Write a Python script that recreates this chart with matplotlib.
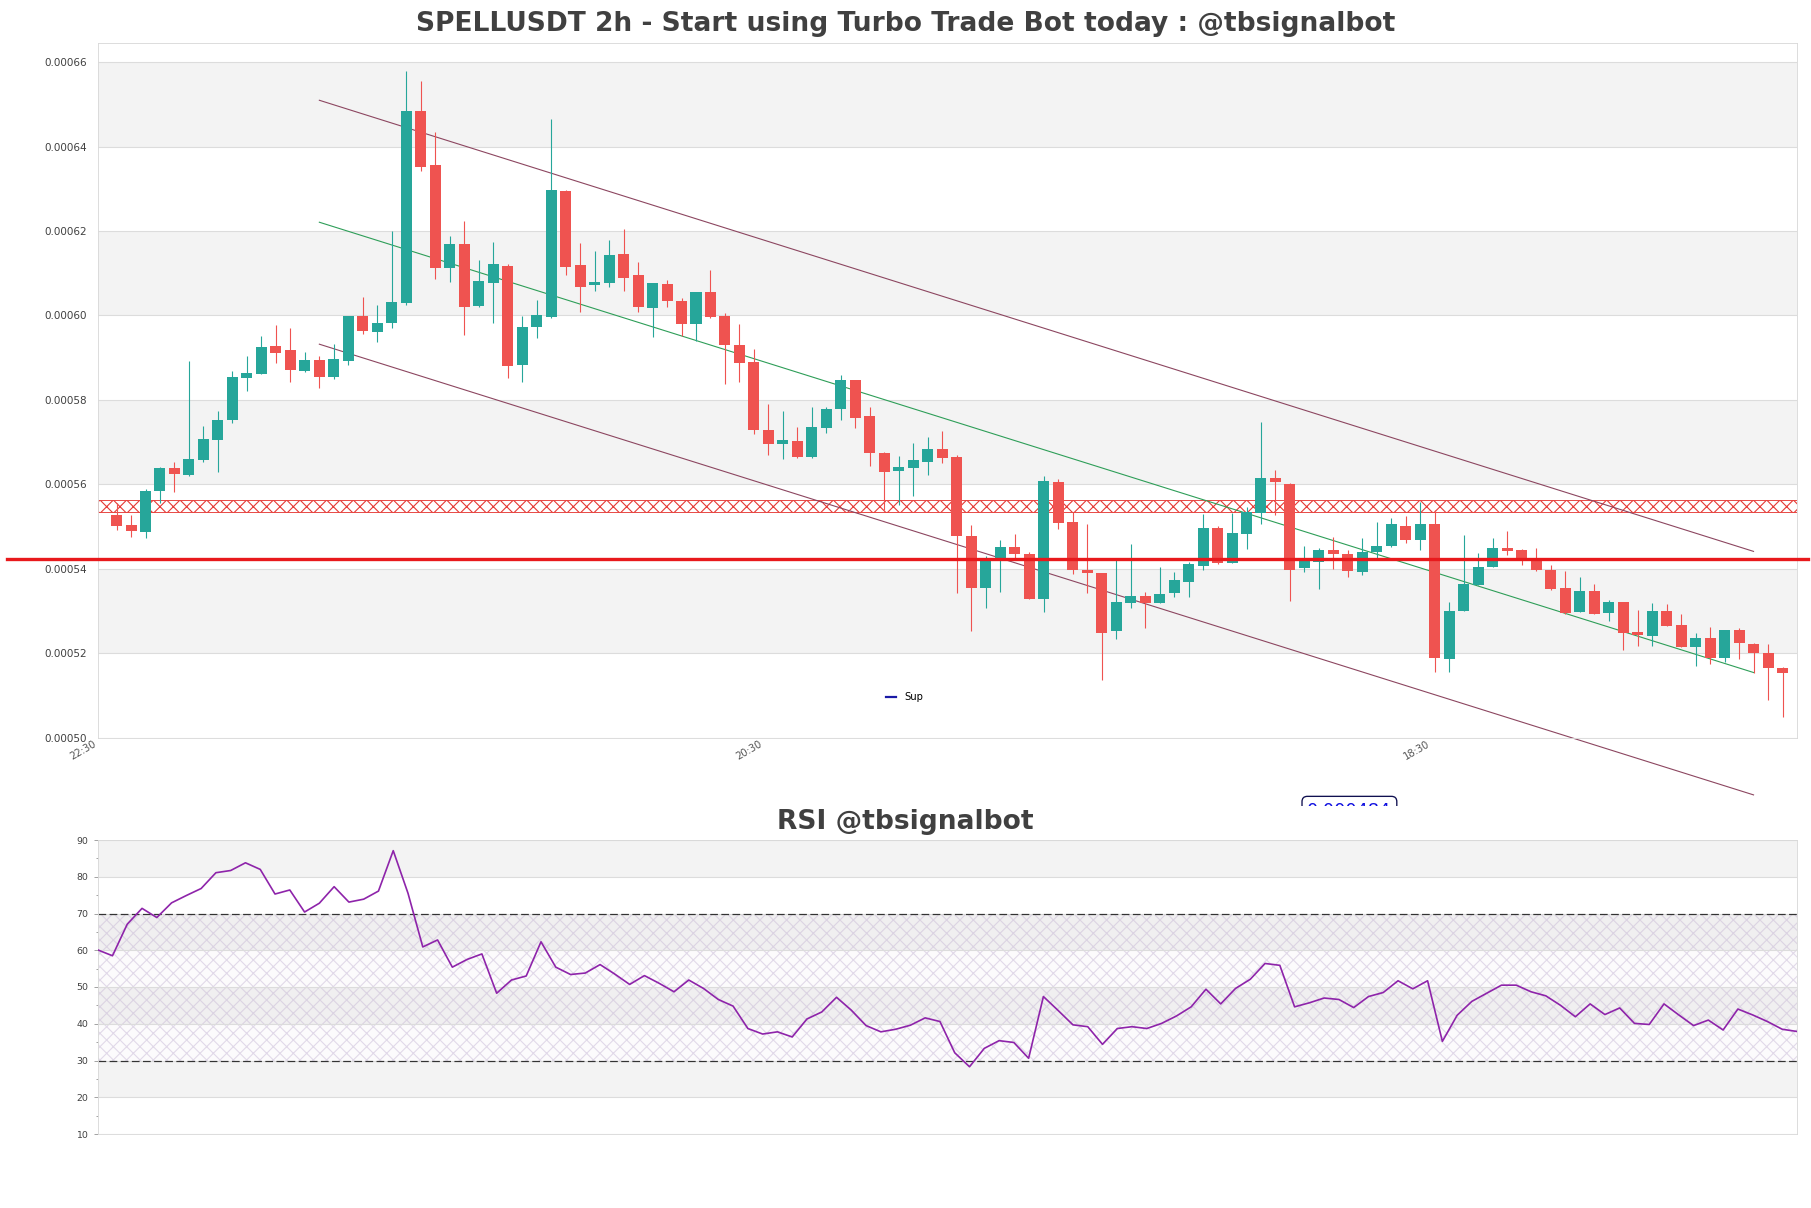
import matplotlib
matplotlib.use("Agg")
import matplotlib.pyplot as plt
import numpy as np
from matplotlib.transforms import Bbox, TransformedBbox


# Candles (SPELLUSDT, 2h), prices in USDT
opens = [0.0005527, 0.0005504, 0.0005488, 0.0005583, 0.0005638, 0.0005622, 0.0005658, 0.0005705,
         0.0005752, 0.0005853, 0.0005862, 0.0005928, 0.0005918, 0.0005869, 0.0005895, 0.0005855,
         0.0005893, 0.0005999, 0.0005962, 0.0005983, 0.0006029, 0.0006485, 0.0006357, 0.0006112,
         0.0006170, 0.0006023, 0.0006078, 0.0006118, 0.0005883, 0.0005972, 0.0005997, 0.0006294,
         0.0006119, 0.0006072, 0.0006078, 0.0006145, 0.0006096, 0.0006017, 0.0006075, 0.0006034,
         0.0005980, 0.0006055, 0.0005999, 0.0005931, 0.0005889, 0.0005729, 0.0005696, 0.0005703,
         0.0005664, 0.0005733, 0.0005778, 0.0005847, 0.0005762, 0.0005675, 0.0005631, 0.0005639,
         0.0005654, 0.0005684, 0.0005664, 0.0005478, 0.0005355, 0.0005422, 0.0005451, 0.0005434,
         0.0005329, 0.0005605, 0.0005511, 0.0005398, 0.0005389, 0.0005253, 0.0005318, 0.0005335,
         0.0005319, 0.0005343, 0.0005369, 0.0005407, 0.0005496, 0.0005414, 0.0005483, 0.0005531,
         0.0005616, 0.0005601, 0.0005402, 0.0005417, 0.0005444, 0.0005434, 0.0005393, 0.0005440,
         0.0005454, 0.0005501, 0.0005468, 0.0005506, 0.0005187, 0.0005300, 0.0005361, 0.0005405,
         0.0005448, 0.0005445, 0.0005422, 0.0005398, 0.0005355, 0.0005298, 0.0005347, 0.0005296,
         0.0005320, 0.0005249, 0.0005240, 0.0005300, 0.0005266, 0.0005215, 0.0005235, 0.0005188,
         0.0005255, 0.0005221, 0.0005200, 0.0005164]
highs = [0.0005555, 0.0005527, 0.0005589, 0.0005640, 0.0005652, 0.0005891, 0.0005737, 0.0005774,
         0.0005869, 0.0005903, 0.0005951, 0.0005978, 0.0005970, 0.0005914, 0.0005903, 0.0005932,
         0.0005999, 0.0006045, 0.0006025, 0.0006200, 0.0006579, 0.0006556, 0.0006434, 0.0006188,
         0.0006225, 0.0006132, 0.0006174, 0.0006122, 0.0005999, 0.0006036, 0.0006466, 0.0006297,
         0.0006172, 0.0006153, 0.0006179, 0.0006205, 0.0006127, 0.0006077, 0.0006084, 0.0006042,
         0.0006055, 0.0006108, 0.0006006, 0.0005980, 0.0005921, 0.0005790, 0.0005774, 0.0005735,
         0.0005784, 0.0005782, 0.0005858, 0.0005847, 0.0005782, 0.0005677, 0.0005666, 0.0005699,
         0.0005711, 0.0005727, 0.0005670, 0.0005504, 0.0005430, 0.0005468, 0.0005482, 0.0005440,
         0.0005620, 0.0005612, 0.0005535, 0.0005506, 0.0005389, 0.0005424, 0.0005458, 0.0005344,
         0.0005405, 0.0005391, 0.0005416, 0.0005530, 0.0005501, 0.0005533, 0.0005547, 0.0005747,
         0.0005634, 0.0005603, 0.0005454, 0.0005448, 0.0005476, 0.0005445, 0.0005472, 0.0005511,
         0.0005520, 0.0005525, 0.0005559, 0.0005539, 0.0005320, 0.0005480, 0.0005438, 0.0005472,
         0.0005489, 0.0005446, 0.0005448, 0.0005408, 0.0005395, 0.0005381, 0.0005364, 0.0005327,
         0.0005322, 0.0005301, 0.0005318, 0.0005316, 0.0005293, 0.0005247, 0.0005261, 0.0005255,
         0.0005259, 0.0005223, 0.0005221, 0.0005166]
lows = [0.0005492, 0.0005476, 0.0005472, 0.0005555, 0.0005581, 0.0005620, 0.0005654, 0.0005628,
        0.0005745, 0.0005821, 0.0005861, 0.0005888, 0.0005843, 0.0005867, 0.0005827, 0.0005850,
        0.0005883, 0.0005957, 0.0005936, 0.0005971, 0.0006025, 0.0006342, 0.0006087, 0.0006080,
        0.0005954, 0.0006019, 0.0005983, 0.0005851, 0.0005843, 0.0005946, 0.0005995, 0.0006095,
        0.0006009, 0.0006059, 0.0006068, 0.0006058, 0.0006009, 0.0005949, 0.0006019, 0.0005952,
        0.0005939, 0.0005995, 0.0005837, 0.0005843, 0.0005719, 0.0005670, 0.0005660, 0.0005662,
        0.0005662, 0.0005721, 0.0005753, 0.0005733, 0.0005644, 0.0005540, 0.0005550, 0.0005572,
        0.0005621, 0.0005650, 0.0005342, 0.0005252, 0.0005308, 0.0005345, 0.0005424, 0.0005329,
        0.0005298, 0.0005495, 0.0005388, 0.0005343, 0.0005136, 0.0005233, 0.0005308, 0.0005259,
        0.0005319, 0.0005334, 0.0005332, 0.0005397, 0.0005411, 0.0005414, 0.0005446, 0.0005506,
        0.0005527, 0.0005324, 0.0005391, 0.0005353, 0.0005400, 0.0005381, 0.0005386, 0.0005422,
        0.0005451, 0.0005461, 0.0005444, 0.0005156, 0.0005156, 0.0005300, 0.0005361, 0.0005405,
        0.0005433, 0.0005409, 0.0005395, 0.0005350, 0.0005293, 0.0005298, 0.0005293, 0.0005276,
        0.0005207, 0.0005218, 0.0005218, 0.0005265, 0.0005215, 0.0005169, 0.0005175, 0.0005180,
        0.0005185, 0.0005152, 0.0005089, 0.0005049]
closes = [0.0005502, 0.0005490, 0.0005585, 0.0005638, 0.0005624, 0.0005660, 0.0005707, 0.0005752,
          0.0005854, 0.0005863, 0.0005925, 0.0005912, 0.0005871, 0.0005895, 0.0005855, 0.0005897,
          0.0005999, 0.0005963, 0.0005983, 0.0006032, 0.0006485, 0.0006353, 0.0006112, 0.0006170,
          0.0006021, 0.0006082, 0.0006122, 0.0005881, 0.0005972, 0.0006001, 0.0006297, 0.0006116,
          0.0006068, 0.0006080, 0.0006143, 0.0006090, 0.0006019, 0.0006077, 0.0006035, 0.0005979,
          0.0006055, 0.0005997, 0.0005930, 0.0005888, 0.0005729, 0.0005695, 0.0005704, 0.0005664,
          0.0005735, 0.0005778, 0.0005847, 0.0005758, 0.0005673, 0.0005628, 0.0005640, 0.0005658,
          0.0005684, 0.0005662, 0.0005478, 0.0005355, 0.0005423, 0.0005451, 0.0005436, 0.0005329,
          0.0005608, 0.0005509, 0.0005398, 0.0005389, 0.0005248, 0.0005320, 0.0005335, 0.0005318,
          0.0005340, 0.0005373, 0.0005411, 0.0005496, 0.0005414, 0.0005484, 0.0005535, 0.0005614,
          0.0005606, 0.0005398, 0.0005422, 0.0005444, 0.0005434, 0.0005395, 0.0005440, 0.0005454,
          0.0005506, 0.0005469, 0.0005506, 0.0005189, 0.0005300, 0.0005364, 0.0005403, 0.0005448,
          0.0005443, 0.0005419, 0.0005398, 0.0005353, 0.0005296, 0.0005347, 0.0005293, 0.0005320,
          0.0005247, 0.0005242, 0.0005300, 0.0005265, 0.0005215, 0.0005235, 0.0005189, 0.0005255,
          0.0005223, 0.0005200, 0.0005165, 0.0005154]

# RSI(14), one value per candle
rsi = [60.1, 58.5, 67.1, 71.4, 68.9, 72.9, 74.9, 76.8, 81.1, 81.7,
       83.8, 82.0, 75.3, 76.4, 70.4, 72.8, 77.3, 73.1, 73.9, 76.1,
       87.1, 75.5, 60.9, 62.8, 55.4, 57.5, 59.0, 48.3, 51.9, 53.0,
       62.3, 55.4, 53.4, 53.8, 56.1, 53.5, 50.7, 53.1, 51.0, 48.7,
       51.9, 49.6, 46.6, 44.8, 38.7, 37.2, 37.8, 36.4, 41.3, 43.2,
       47.2, 43.7, 39.5, 37.8, 38.5, 39.6, 41.6, 40.6, 32.1, 28.3,
       33.3, 35.4, 34.9, 30.6, 47.4, 43.6, 39.7, 39.2, 34.4, 38.7,
       39.2, 38.7, 40.1, 42.1, 44.6, 49.4, 45.4, 49.6, 52.1, 56.4,
       55.9, 44.6, 45.7, 47.0, 46.6, 44.4, 47.4, 48.5, 51.7, 49.5,
       51.7, 35.2, 42.3, 46.1, 48.3, 50.5, 50.5, 48.7, 47.6, 45.0,
       41.9, 45.4, 42.5, 44.3, 40.1, 39.8, 45.4, 42.4, 39.5, 41.0,
       38.3, 44.0, 42.4, 40.6, 38.5, 37.9]

# Trend channel (start / end candle and price)
channel_x = [14, 113]
channel_upper = [0.0006510, 0.0005441]
channel_mid = [0.0006221, 0.0005154]
channel_lower = [0.0005932, 0.0004864]

resistance_zone = (0.0005535, 0.0005563)
current_level = 0.0005422
support = 0.000484

xtick_pos = [-1.3, 44.7, 90.75]
xtick_labels = ['22:30', '20:30', '18:30']

GREEN = '#26a69a'
RED = '#ef5350'
GRID = '#dcdcdc'
BAND = '#f3f3f3'
SPINE = '#d9d9d9'
TXT = '#404040'

W, H, DPI = 1811, 1208, 80
fig = plt.figure(figsize=(W / DPI, H / DPI), dpi=DPI)

ax = fig.add_axes([97.7 / W, 1 - 737.5 / H, 1699.3 / W, 694.5 / H])
ax2 = fig.add_axes([97.7 / W, 1 - 1134 / H, 1699.3 / W, 294 / H])

# --- price panel ---
o = np.array(opens)
c = np.array(closes)
x = np.arange(len(o))
cols = [GREEN if cc >= oo else RED for oo, cc in zip(o, c)]

ax.set_xlim(-1, len(o))
ax.set_ylim(0.0005, 0.00066457)

price_ticks = np.arange(0.00050, 0.000661, 0.00002)
for lo in price_ticks[1::2]:
    if lo + 0.00002 <= 0.000661:
        ax.axhspan(lo, lo + 0.00002, color=BAND, lw=0, zorder=0.1)

ax.axhspan(*resistance_zone, facecolor='none', edgecolor='#e53935', hatch='xx', lw=0.8, zorder=1.5)

ax.plot(channel_x, channel_upper, color='#8c4660', lw=1.0, zorder=2, clip_on=False)
ax.plot(channel_x, channel_mid, color='#2e9e58', lw=1.0, zorder=2, clip_on=False)
ax.plot(channel_x, channel_lower, color='#8c4660', lw=1.0, zorder=2, clip_on=False)

ax.vlines(x, lows, highs, colors=cols, lw=1.0, zorder=3)
ax.bar(x, np.abs(c - o), bottom=np.minimum(o, c), width=0.76, color=cols, zorder=4)

ax.axhline(current_level, xmin=-0.0534, xmax=1.0065, color='#e8191c', lw=3.0, zorder=5, clip_on=False)
ax.axhline(support, color='#1a1aa6', lw=2.0, label='Sup')

lbl = ax.annotate(f'{support:.6f}', xy=(82.2, support), xytext=(0, 3), textcoords='offset points',
                  color='#1010e0', fontsize=16, ha='left', va='top', annotation_clip=False,
                  bbox=dict(boxstyle='round,pad=0.3', fc='white', ec='#101050', lw=1.2))
lbl.set_clip_box(TransformedBbox(Bbox([[0, 1 - 805.5 / H], [1, 1]]), fig.transFigure))

ax.legend(loc='center', bbox_to_anchor=(0.4748, 0.0583), frameon=False, fontsize=9,
          handlelength=1.0, handletextpad=0.9)

ax.set_yticks(price_ticks)
ax.set_yticklabels([f'{v:.5f}' for v in price_ticks])
ax.set_xticks(xtick_pos)
ax.set_xticklabels(xtick_labels, rotation=30, ha='right')
ax.tick_params(axis='y', length=0, pad=9.6, labelsize=9.4, labelcolor=TXT)
ax.tick_params(axis='x', length=0, pad=1, labelsize=9, labelcolor='#555555')
ax.yaxis.grid(True, color=GRID, lw=1.0)
ax.set_axisbelow(True)
for s in ax.spines.values():
    s.set_color(SPINE)

# --- RSI panel ---
xr = np.arange(len(rsi))
ax2.set_xlim(0, len(rsi) - 1)
ax2.set_ylim(10, 90)
for lo in [20, 40, 60, 80]:
    ax2.axhspan(lo, lo + 10, color=BAND, lw=0, zorder=0.1)
ax2.axhspan(30, 70, facecolor=(0.5, 0.45, 0.6, 0.025), edgecolor=(0.78, 0.72, 0.84, 0.5),
            hatch='xx', lw=0, zorder=0.2)
ax2.axhline(70, color='#333333', lw=1.1, ls=(0, (6.3, 2.8)), zorder=2)
ax2.axhline(30, color='#333333', lw=1.1, ls=(0, (6.3, 2.8)), zorder=2)
ax2.plot(xr, rsi, color='#8e24aa', lw=1.5, zorder=3)

ax2.set_yticks(range(10, 91, 10))
ax2.set_yticks(range(15, 90, 10), minor=True)
ax2.set_xticks([])
ax2.tick_params(axis='y', which='major', length=4, width=0.8, color='#999999', pad=4.5,
                labelsize=8.4, labelcolor=TXT)
ax2.tick_params(axis='y', which='minor', length=2.2, width=0.8, color='#999999')
ax2.yaxis.grid(True, color=GRID, lw=1.0)
ax2.set_axisbelow(True)
for s in ax2.spines.values():
    s.set_color(SPINE)

fig.text(0.5, 1 - 31 / H, 'SPELLUSDT 2h - Start using Turbo Trade Bot today : @tbsignalbot',
         ha='center', va='baseline', fontsize=23.9, fontweight='bold', color=TXT)
fig.text(0.5, 1 - 829.3 / H, 'RSI @tbsignalbot', ha='center', va='baseline',
         fontsize=23.9, fontweight='bold', color=TXT)

fig.savefig('out.png', dpi=DPI, facecolor='white')
